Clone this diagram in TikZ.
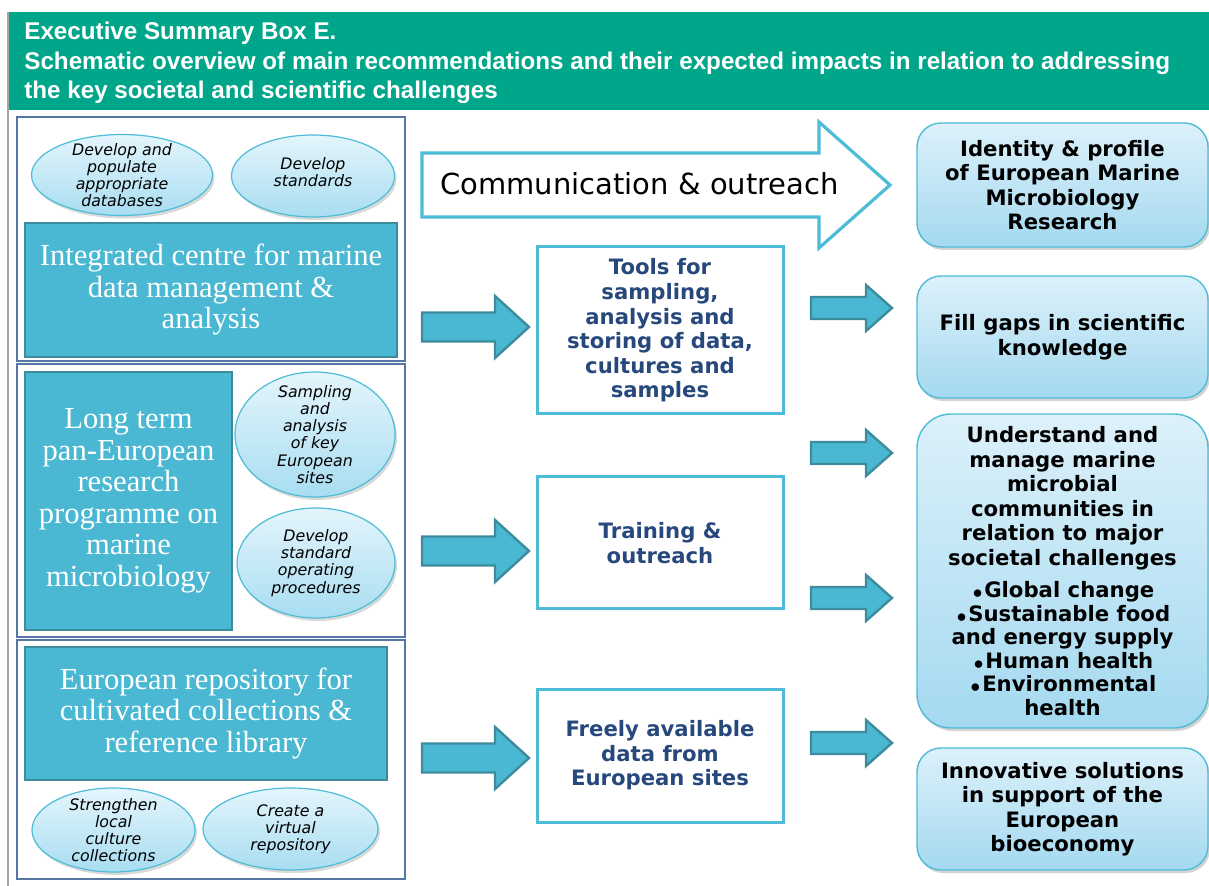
\documentclass[tikz,border=0pt]{standalone}
\usepackage{fontspec}
\setmainfont{DejaVu Sans}
\newfontfamily\headfont{Liberation Sans}
\newfontfamily\romanfont{Liberation Serif}
\usetikzlibrary{shapes.geometric,shadows}

\definecolor{headgreen}{RGB}{0,166,138}
\definecolor{frameblue}{RGB}{84,119,163}
\definecolor{tealbox}{RGB}{74,184,210}
\definecolor{tealedge}{RGB}{60,140,158}
\definecolor{skyline}{RGB}{77,188,214}
\definecolor{navytext}{RGB}{39,72,124}
\definecolor{ovaltop}{RGB}{228,245,252}
\definecolor{ovalbot}{RGB}{168,221,241}
\definecolor{goaltop}{RGB}{220,241,250}
\definecolor{goalbot}{RGB}{164,217,240}
\definecolor{pagegray}{RGB}{165,165,165}

% tail x, mid y, head x, tip x, body half, head half
\newcommand{\blockarrow}[6]{%
  \draw[fatarrow] (#1,#2-#5) -- (#3,#2-#5) -- (#3,#2-#6) -- (#4,#2)
    -- (#3,#2+#6) -- (#3,#2+#5) -- (#1,#2+#5) -- cycle;}
\newcommand{\lowdot}{\raisebox{-0.2em}{•}}

\begin{document}
\begin{tikzpicture}[x=0.5pt, y=-0.5pt,
    frame/.style={draw=frameblue, line width=1.2pt},
    bigbox/.style={rectangle, fill=tealbox, draw=tealedge, line width=0.8pt, text=white,
      align=center, inner sep=0pt, font=\romanfont\fontsize{15.3}{15.75}\selectfont},
    oval/.style={ellipse, draw=skyline, line width=0.6pt, top color=ovaltop, bottom color=ovalbot,
      drop shadow={opacity=0.3, shadow xshift=1pt, shadow yshift=-1.5pt}},
    ovaltext/.style={align=center, inner sep=0pt, font=\itshape\fontsize{7.9}{8.6}\selectfont},
    midbox/.style={rectangle, draw=skyline, line width=1.5pt, text=navytext, align=center,
      minimum width=123pt, font=\bfseries\fontsize{10.6}{12.3}\selectfont},
    goalbox/.style={rectangle, rounded corners=12pt, draw=skyline, line width=0.7pt,
      top color=goaltop, bottom color=goalbot, minimum width=145.5pt, align=center,
      font=\bfseries\fontsize{10.6}{12.25}\selectfont,
      drop shadow={opacity=0.35, shadow xshift=1pt, shadow yshift=-1.5pt}},
    fatarrow/.style={fill=tealbox, draw=tealedge, line width=1.2pt},
    outarrow/.style={draw=skyline, line width=1.6pt, fill=white},
    headtext/.style={text=white, align=left, inner sep=0pt,
      font=\headfont\bfseries\fontsize{12.1}{14.75}\selectfont}]
  \useasboundingbox (0,0) rectangle (1209,886);

  % header
  \fill[headgreen] (8,12) rectangle (1209,110);
  \draw[pagegray, line width=0.8pt] (8,12) -- (8,886);
  \node[headtext, anchor=north west] (title) at (24,22) {Executive Summary Box E.\\
    Schematic overview of main recommendations and their expected impacts in relation to addressing\\
    the key societal and scientific challenges};

  % left column
  \draw[frame] (17,117) rectangle (405,361);
  \draw[frame] (17,364) rectangle (405,637);
  \draw[frame] (17,640) rectangle (405,879);

  \node[oval, minimum width=90.5pt, minimum height=40.5pt] (dbase) at (122,175) {};
  \node[ovaltext] (dbasetxt) at (dbase) {Develop and\\populate\\appropriate\\databases};
  \node[oval, minimum width=81.5pt, minimum height=41pt] (standards) at (313,176) {};
  \node[ovaltext, yshift=2pt] (standardstxt) at (standards) {Develop\\standards};
  \node[bigbox, minimum width=186pt, minimum height=67pt] (centre) at (211,290)
    {Integrated centre for marine\\data management \&\\analysis};

  \node[bigbox, minimum width=103.5pt, minimum height=129pt] (programme) at (128.5,501)
    {Long term\\pan-European\\research\\programme on\\marine\\microbiology};
  \node[oval, minimum width=80pt, minimum height=62.5pt] (sites) at (315,434.5) {};
  \node[ovaltext] (sitestxt) at (sites) {Sampling\\and\\analysis\\of key\\European\\sites};
  \node[oval, minimum width=79pt, minimum height=55pt] (sops) at (316,563) {};
  \node[ovaltext] (sopstxt) at (sops) {Develop\\standard\\operating\\procedures};

  \node[bigbox, minimum width=181pt, minimum height=66.5pt] (repository) at (206,713.5)
    {European repository for\\cultivated collections \&\\reference library};
  \node[oval, minimum width=81.5pt, minimum height=42pt] (localcc) at (113.5,830) {};
  \node[ovaltext] (localcctxt) at (localcc) {Strengthen\\local\\culture\\collections};
  \node[oval, minimum width=87.5pt, minimum height=41pt] (virtual) at (290.5,829) {};
  \node[ovaltext] (virtualtxt) at (virtual) {Create a\\virtual\\repository};

  % communication arrow
  \draw[outarrow] (422,153) -- (819,153) -- (819,122) -- (890,185) -- (819,248)
    -- (819,217) -- (422,217) -- cycle;
  \node[anchor=west, inner sep=0pt, font=\fontsize{14.5}{16}\selectfont] (comm) at (440,184)
    {Communication \& outreach};

  % middle column
  \node[midbox, minimum height=83.5pt] (tools) at (660,330.5)
    {Tools for\\sampling,\\analysis and\\storing of data,\\cultures and\\samples};
  \node[midbox, minimum height=66pt] (training) at (660,543) {Training \&\\outreach};
  \node[midbox, minimum height=66.5pt] (freedata) at (660,755.5)
    {Freely available\\data from\\European sites};

  \blockarrow{422}{327}{495}{529}{14.5}{31}
  \blockarrow{422}{551}{495}{529}{14.5}{31}
  \blockarrow{422}{758}{495}{529}{14.5}{31}

  \blockarrow{811}{308}{866}{892}{11}{23}
  \blockarrow{811}{453}{866}{892}{11}{23}
  \blockarrow{811}{598}{866}{892}{11}{23}
  \blockarrow{811}{743}{866}{892}{11}{23}

  % right column
  \node[goalbox, minimum height=62pt] (identity) at (1062.5,185)
    {Identity \& profile\\of European Marine\\Microbiology\\Research};
  \node[goalbox, minimum height=61pt] (gaps) at (1062.5,337)
    {Fill gaps in scientific\\knowledge};
  \node[goalbox, rounded corners=17pt, minimum height=157pt] (societal) at (1062.5,571)
    {Understand and\\manage marine\\microbial\\communities in\\relation to major\\societal challenges\\[4pt]
     \lowdot Global change\\[-0.5pt]\lowdot Sustainable food\\[-0.5pt]and energy supply\\[-0.5pt]
     \lowdot Human health\\[-0.5pt]\lowdot Environmental\\[-0.5pt]health};
  \node[goalbox, minimum height=61pt] (bioeco) at (1062.5,809)
    {Innovative solutions\\in support of the\\European\\bioeconomy};
\end{tikzpicture}
\end{document}
